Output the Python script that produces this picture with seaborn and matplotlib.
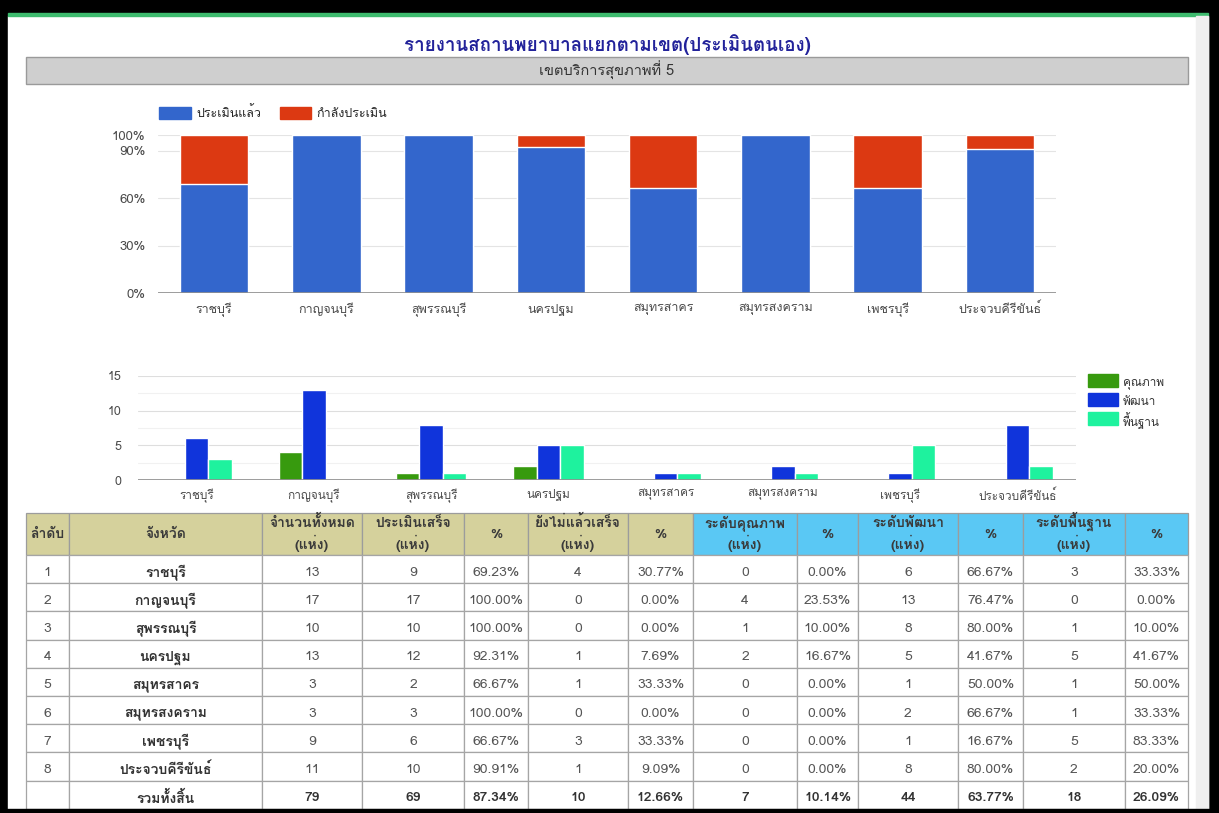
import pandas as pd
import seaborn as sns
import matplotlib.pyplot as plt
from matplotlib import font_manager
from matplotlib.ft2font import FT2Font
from matplotlib.patches import Rectangle, Patch
from matplotlib.ticker import MultipleLocator

# ข้อมูลจากตาราง
provinces = ['ราชบุรี', 'กาญจนบุรี', 'สุพรรณบุรี', 'นครปฐม',
             'สมุทรสาคร', 'สมุทรสงคราม', 'เพชรบุรี', 'ประจวบคีรีขันธ์']
total = [13, 17, 10, 13, 3, 3, 9, 11]
done = [9, 17, 10, 12, 2, 3, 6, 10]
pending = [4, 0, 0, 1, 1, 0, 3, 1]
quality = [0, 4, 1, 2, 0, 0, 0, 0]
develop = [6, 13, 8, 5, 1, 2, 1, 8]
basic = [3, 0, 1, 5, 1, 1, 5, 2]

legend1 = ['ประเมินแล้ว', 'กำลังประเมิน']
legend2 = ['คุณภาพ', 'พัฒนา', 'พื้นฐาน']
headers = ['ลำดับ', 'จังหวัด', 'จำนวนทั้งหมด\n(แห่ง)', 'ประเมินเสร็จ\n(แห่ง)', '%',
           'ยังไม่แล้วเสร็จ\n(แห่ง)', '%', 'ระดับคุณภาพ\n(แห่ง)', '%',
           'ระดับพัฒนา\n(แห่ง)', '%', 'ระดับพื้นฐาน\n(แห่ง)', '%']
title = 'รายงานสถานพยาบาลแยกตามเขต(ประเมินตนเอง)'
subtitle = 'เขตบริการสุขภาพที่ 5'
total_label = 'รวมทั้งสิ้น'


def thai_font():
    # หาฟอนต์ที่มีอักษรไทย
    for f in font_manager.fontManager.ttflist:
        try:
            if 0x0E01 in FT2Font(f.fname).get_charmap():
                return f.name
        except Exception:
            pass
    return 'DejaVu Sans'


sns.set_style('white')
plt.rcParams['font.family'] = [thai_font(), 'DejaVu Sans']

W, H = 1219, 813


def box(x0, y0, x1, y1):
    return [x0 / W, 1 - y1 / H, (x1 - x0) / W, (y1 - y0) / H]


fig = plt.figure(figsize=(W / 100, H / 100), dpi=100, facecolor='black')

# พื้นหลังและกรอบหน้าเว็บ (พิกัดเป็นพิกเซล)
bg = fig.add_axes([0, 0, 1, 1], zorder=0)
bg.set_xlim(0, W)
bg.set_ylim(H, 0)
bg.axis('off')
bg.add_patch(Rectangle((8, 16), 1200, 793, color='white'))
bg.add_patch(Rectangle((8, 13), 1200, 3, color='#3dbb6e'))
bg.add_patch(Rectangle((1196, 16), 12, 793, color='#efefef'))

bg.text(607, 45, title, ha='center', va='center', fontsize=13.5,
        fontweight='semibold', color='#22229a')
bg.add_patch(Rectangle((26, 57), 1162, 27, facecolor='#cfcfcf', edgecolor='#9a9a9a', lw=1))
bg.text(607, 70.5, subtitle, ha='center', va='center', fontsize=10.5, color='#333333')

# ---------- กราฟที่ 1: ร้อยละการประเมิน ----------
blue1, red1 = '#3366cc', '#dc3912'
pct_done = [d / t * 100 for d, t in zip(done, total)]
pct_all = [(d + p) / t * 100 for d, p, t in zip(done, pending, total)]

ax1 = fig.add_axes(box(158, 135, 1056, 293), zorder=2)
ax1.patch.set_alpha(0)
sns.barplot(x=provinces, y=pct_all, color=red1, width=0.61, saturation=1, ax=ax1)
sns.barplot(x=provinces, y=pct_done, color=blue1, width=0.61, saturation=1, ax=ax1)
ax1.set_ylim(0, 100)
ax1.set_xlim(-0.5, 7.5)
ax1.set_yticks([0, 30, 60, 90, 100])
ax1.set_yticklabels(['0%', '30%', '60%', '90%', '100%'])
ax1.yaxis.grid(True, color='#e4e4e4', lw=0.8)
ax1.set_axisbelow(True)
ax1.axhline(0, color='#8c8c8c', lw=1.2)
for s in ax1.spines.values():
    s.set_visible(False)
ax1.tick_params(length=0, labelsize=9, colors='#4a4a4a')
ax1.tick_params(axis='y', labelsize=9.5, pad=9)
ax1.tick_params(axis='x', pad=7)
ax1.set_xlabel('')
ax1.set_ylabel('')

fig.legend(handles=[Patch(color=blue1), Patch(color=red1)], labels=legend1,
           loc='center left', bbox_to_anchor=(148 / W, 1 - 113 / H), ncol=2,
           frameon=False, fontsize=9, handlelength=2.5, handleheight=1.1,
           handletextpad=0.45, columnspacing=1.5)

# ---------- กราฟที่ 2: ระดับ ----------
colors2 = ['#379a0e', '#1034db', '#1ef29e']
df = pd.DataFrame({
    'จังหวัด': provinces * 3,
    'ระดับ': [legend2[0]] * 8 + [legend2[1]] * 8 + [legend2[2]] * 8,
    'จำนวน': quality + develop + basic,
})

ax2 = fig.add_axes(box(138, 376, 1076, 480), zorder=2)
ax2.patch.set_alpha(0)
sns.barplot(data=df, x='จังหวัด', y='จำนวน', hue='ระดับ', palette=colors2,
            width=0.6, saturation=1, legend=False, ax=ax2)
ax2.set_ylim(0, 15)
ax2.set_xlim(-0.5, 7.5)
ax2.set_yticks([0, 5, 10, 15])
ax2.yaxis.set_minor_locator(MultipleLocator(2.5))
ax2.yaxis.grid(True, which='major', color='#dedede', lw=0.8)
ax2.yaxis.grid(True, which='minor', color='#f1f1f1', lw=0.8)
ax2.set_axisbelow(True)
ax2.axhline(0, color='#8c8c8c', lw=1.2)
for s in ax2.spines.values():
    s.set_visible(False)
ax2.tick_params(which='both', length=0, labelsize=8.5, colors='#4a4a4a')
ax2.tick_params(axis='y', labelsize=9, pad=12)
ax2.tick_params(axis='x', pad=6)
ax2.set_xlabel('')
ax2.set_ylabel('')

# คำอธิบายสัญลักษณ์ของกราฟที่ 2 (เรียงแนวตั้งด้านขวา)
for k, (lab, c) in enumerate(zip(legend2, colors2)):
    yc = 381 + k * 18.5
    bg.add_patch(Rectangle((1088, yc - 6.5), 30, 13, color=c))
    bg.text(1123, yc + 1, lab, ha='left', va='center_baseline', fontsize=8.5, color='#333333')

# ---------- ตาราง ----------
cols = [26, 69, 262, 362, 464, 528, 628, 693, 797, 858, 958, 1023, 1125, 1188]
head_top, head_bot = 513, 555
row_h = 28.2


def pct(a, b):
    return f'{a / b * 100:.2f}%'


rows = []
for i, p in enumerate(provinces):
    rows.append([str(i + 1), p, str(total[i]), str(done[i]), pct(done[i], total[i]),
                 str(pending[i]), pct(pending[i], total[i]),
                 str(quality[i]), pct(quality[i], done[i]),
                 str(develop[i]), pct(develop[i], done[i]),
                 str(basic[i]), pct(basic[i], done[i])])
sd, sq, sv, sb = sum(done), sum(quality), sum(develop), sum(basic)
rows.append(['', total_label, str(sum(total)), str(sd), pct(sd, sum(total)),
             str(sum(pending)), pct(sum(pending), sum(total)),
             str(sq), pct(sq, sd), str(sv), pct(sv, sd), str(sb), pct(sb, sd)])

for j, h in enumerate(headers):
    x0, x1 = cols[j], cols[j + 1]
    fc = '#d5d19c' if j < 7 else '#5ac8f4'
    bg.add_patch(Rectangle((x0, head_top), x1 - x0, head_bot - head_top,
                           facecolor=fc, edgecolor='#9c9c9c', lw=0.9))
    lines = h.split('\n')
    ys = [527, 549] if len(lines) == 2 else [538]
    for line, yb in zip(lines, ys):
        bg.text((x0 + x1) / 2, yb, line, ha='center', va='baseline',
                fontsize=10, fontweight='bold', color='#3a3a3a')

for r, row in enumerate(rows):
    y0 = head_bot + r * row_h
    last = r == len(rows) - 1
    for j, val in enumerate(row):
        x0, x1 = cols[j], cols[j + 1]
        bg.add_patch(Rectangle((x0, y0), x1 - x0, row_h, facecolor='white',
                               edgecolor='#a5a5a5', lw=0.9))
        bold = last or j == 1
        bg.text((x0 + x1) / 2, y0 + row_h / 2 + 2, val, ha='center', va='center_baseline',
                fontsize=10, fontweight='bold' if bold else 'normal',
                color='#333333' if bold else '#555555')

# ขอบดำด้านล่าง
bg.add_patch(Rectangle((0, 809), W, 4, color='black', zorder=5))

fig.savefig('out.png', dpi=100, facecolor='black')
